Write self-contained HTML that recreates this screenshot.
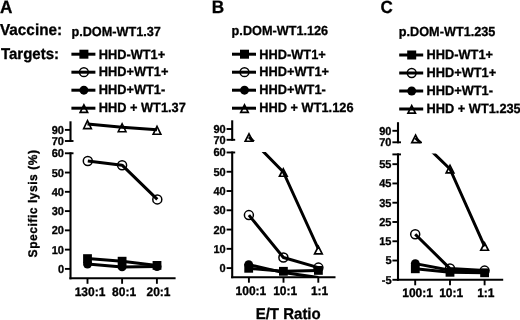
<!DOCTYPE html>
<html><head><meta charset="utf-8"><style>
html,body{margin:0;padding:0;background:#fff;}
body{width:520px;height:320px;overflow:hidden;}
svg{display:block;will-change:transform;}
text{stroke:#000;stroke-width:0.3px;text-rendering:geometricPrecision;}
</style></head><body>
<svg width="520" height="320" viewBox="0 0 520 320" font-family="Liberation Sans" font-weight="bold" fill="#000">
<rect width="520" height="320" fill="#fff"/>
<text transform="translate(36.9,257.4) rotate(-90) scale(1,1.04)" font-size="12" letter-spacing="0.55">Specific lysis (%)</text>
<text transform="translate(0,12.5) scale(1,1.04)" font-size="17.2" text-anchor="start" >A</text>
<text transform="translate(211.8,12.8) scale(1,1.04)" font-size="17.2" text-anchor="start" >B</text>
<text transform="translate(380.4,12.9) scale(1,1.04)" font-size="17.0" text-anchor="start" >C</text>
<text transform="translate(0,35.4) scale(1,1.04)" font-size="15.3" text-anchor="start" >Vaccine:</text>
<text transform="translate(0.9,59) scale(1,1.04)" font-size="15" text-anchor="start" >Targets:</text>
<text transform="translate(71.4,35.5) scale(1,1.04)" font-size="12.7" text-anchor="start" >p.DOM-WT1.37</text>
<text transform="translate(231.6,35.0) scale(1,1.04)" font-size="12.7" text-anchor="start" >p.DOM-WT1.126</text>
<text transform="translate(398.8,35.7) scale(1,1.04)" font-size="12.7" text-anchor="start" >p.DOM-WT1.235</text>
<line x1="71.39999999999999" y1="54.2" x2="95.4" y2="54.2" stroke="#000" stroke-width="3.0" />
<rect x="79.40" y="49.70" width="9.0" height="9.0" fill="#000"/>
<text transform="translate(98.69999999999999,58.550000000000004) scale(1,1.04)" font-size="12.8" text-anchor="start" >HHD-WT1+</text>
<line x1="71.39999999999999" y1="72.2" x2="95.4" y2="72.2" stroke="#000" stroke-width="3.0" />
<circle cx="83.89999999999999" cy="72.2" r="4.4" fill="none" stroke="#000" stroke-width="1.5"/>
<text transform="translate(98.69999999999999,76.35000000000001) scale(1,1.04)" font-size="12.8" text-anchor="start" >HHD+WT1+</text>
<line x1="71.39999999999999" y1="90.2" x2="95.4" y2="90.2" stroke="#000" stroke-width="3.0" />
<circle cx="83.89999999999999" cy="90.2" r="4.45" fill="#000"/>
<text transform="translate(98.69999999999999,94.15) scale(1,1.04)" font-size="12.8" text-anchor="start" >HHD+WT1-</text>
<line x1="71.39999999999999" y1="108.2" x2="95.4" y2="108.2" stroke="#000" stroke-width="3.0" />
<polygon points="83.90,104.87 87.63,112.40 80.17,112.40" fill="none" stroke="#000" stroke-width="1.7" stroke-linejoin="miter"/>
<text transform="translate(98.69999999999999,111.95000000000002) scale(1,1.04)" font-size="12.8" text-anchor="start" >HHD + WT1.37</text>
<line x1="232.0" y1="54.2" x2="256.0" y2="54.2" stroke="#000" stroke-width="3.0" />
<rect x="240.00" y="49.70" width="9.0" height="9.0" fill="#000"/>
<text transform="translate(259.3,58.550000000000004) scale(1,1.04)" font-size="12.8" text-anchor="start" >HHD-WT1+</text>
<line x1="232.0" y1="72.2" x2="256.0" y2="72.2" stroke="#000" stroke-width="3.0" />
<circle cx="244.5" cy="72.2" r="4.4" fill="none" stroke="#000" stroke-width="1.5"/>
<text transform="translate(259.3,76.35000000000001) scale(1,1.04)" font-size="12.8" text-anchor="start" >HHD+WT1+</text>
<line x1="232.0" y1="90.2" x2="256.0" y2="90.2" stroke="#000" stroke-width="3.0" />
<circle cx="244.5" cy="90.2" r="4.45" fill="#000"/>
<text transform="translate(259.3,94.15) scale(1,1.04)" font-size="12.8" text-anchor="start" >HHD+WT1-</text>
<line x1="232.0" y1="108.2" x2="256.0" y2="108.2" stroke="#000" stroke-width="3.0" />
<polygon points="244.50,104.87 248.23,112.40 240.77,112.40" fill="none" stroke="#000" stroke-width="1.7" stroke-linejoin="miter"/>
<text transform="translate(259.3,111.95000000000002) scale(1,1.04)" font-size="12.8" text-anchor="start" >HHD + WT1.126</text>
<line x1="399.20000000000005" y1="55.0" x2="423.20000000000005" y2="55.0" stroke="#000" stroke-width="3.0" />
<rect x="407.20" y="50.50" width="9.0" height="9.0" fill="#000"/>
<text transform="translate(426.5,59.35) scale(1,1.04)" font-size="12.8" text-anchor="start" >HHD-WT1+</text>
<line x1="399.20000000000005" y1="73.0" x2="423.20000000000005" y2="73.0" stroke="#000" stroke-width="3.0" />
<circle cx="411.70000000000005" cy="73.0" r="4.4" fill="none" stroke="#000" stroke-width="1.5"/>
<text transform="translate(426.5,77.15) scale(1,1.04)" font-size="12.8" text-anchor="start" >HHD+WT1+</text>
<line x1="399.20000000000005" y1="91.0" x2="423.20000000000005" y2="91.0" stroke="#000" stroke-width="3.0" />
<circle cx="411.70000000000005" cy="91.0" r="4.45" fill="#000"/>
<text transform="translate(426.5,94.95) scale(1,1.04)" font-size="12.8" text-anchor="start" >HHD+WT1-</text>
<line x1="399.20000000000005" y1="109.0" x2="423.20000000000005" y2="109.0" stroke="#000" stroke-width="3.0" />
<polygon points="411.70,105.67 415.43,113.20 407.97,113.20" fill="none" stroke="#000" stroke-width="1.7" stroke-linejoin="miter"/>
<text transform="translate(426.5,112.75) scale(1,1.04)" font-size="12.8" text-anchor="start" >HHD + WT1.235</text>
<line x1="70.5" y1="121.3" x2="70.5" y2="142.0" stroke="#000" stroke-width="2.1" />
<line x1="70.5" y1="152.3" x2="70.5" y2="279.3" stroke="#000" stroke-width="2.1" />
<line x1="64.9" y1="129.9" x2="70.5" y2="129.9" stroke="#000" stroke-width="1.9" />
<text transform="translate(64.0,133.85) scale(1,1.04)" font-size="11" text-anchor="end" >90</text>
<line x1="64.9" y1="141.0" x2="73.5" y2="141.0" stroke="#000" stroke-width="1.9" />
<text transform="translate(64.0,144.95) scale(1,1.04)" font-size="11" text-anchor="end" >70</text>
<line x1="64.9" y1="153.27999999999997" x2="73.5" y2="153.27999999999997" stroke="#000" stroke-width="1.9" />
<text transform="translate(64.0,157.22999999999996) scale(1,1.04)" font-size="11" text-anchor="end" >60</text>
<line x1="64.9" y1="172.54999999999998" x2="70.5" y2="172.54999999999998" stroke="#000" stroke-width="1.9" />
<text transform="translate(64.0,176.49999999999997) scale(1,1.04)" font-size="11" text-anchor="end" >50</text>
<line x1="64.9" y1="191.82" x2="70.5" y2="191.82" stroke="#000" stroke-width="1.9" />
<text transform="translate(64.0,195.76999999999998) scale(1,1.04)" font-size="11" text-anchor="end" >40</text>
<line x1="64.9" y1="211.08999999999997" x2="70.5" y2="211.08999999999997" stroke="#000" stroke-width="1.9" />
<text transform="translate(64.0,215.03999999999996) scale(1,1.04)" font-size="11" text-anchor="end" >30</text>
<line x1="64.9" y1="230.35999999999999" x2="70.5" y2="230.35999999999999" stroke="#000" stroke-width="1.9" />
<text transform="translate(64.0,234.30999999999997) scale(1,1.04)" font-size="11" text-anchor="end" >20</text>
<line x1="64.9" y1="249.62999999999997" x2="70.5" y2="249.62999999999997" stroke="#000" stroke-width="1.9" />
<text transform="translate(64.0,253.57999999999996) scale(1,1.04)" font-size="11" text-anchor="end" >10</text>
<line x1="64.9" y1="268.9" x2="70.5" y2="268.9" stroke="#000" stroke-width="1.9" />
<text transform="translate(64.0,272.84999999999997) scale(1,1.04)" font-size="11" text-anchor="end" >0</text>
<line x1="69.45" y1="278.3" x2="175.6" y2="278.3" stroke="#000" stroke-width="2.1" />
<line x1="87.5" y1="278.3" x2="87.5" y2="283.8" stroke="#000" stroke-width="1.9" />
<line x1="122.1" y1="278.3" x2="122.1" y2="283.8" stroke="#000" stroke-width="1.9" />
<line x1="156.9" y1="278.3" x2="156.9" y2="283.8" stroke="#000" stroke-width="1.9" />
<text transform="translate(90.0,295.5) scale(1,1.04)" font-size="12" text-anchor="middle" >130:1</text>
<text transform="translate(124.1,295.5) scale(1,1.04)" font-size="12" text-anchor="middle" >80:1</text>
<text transform="translate(158.5,295.5) scale(1,1.04)" font-size="12" text-anchor="middle" >20:1</text>
<line x1="232.2" y1="120.3" x2="232.2" y2="140.8" stroke="#000" stroke-width="2.1" />
<line x1="232.2" y1="151.5" x2="232.2" y2="278.2" stroke="#000" stroke-width="2.1" />
<line x1="226.6" y1="129.0" x2="232.2" y2="129.0" stroke="#000" stroke-width="1.9" />
<text transform="translate(225.7,132.95) scale(1,1.04)" font-size="11" text-anchor="end" >90</text>
<line x1="226.6" y1="139.8" x2="235.2" y2="139.8" stroke="#000" stroke-width="1.9" />
<text transform="translate(225.7,143.75) scale(1,1.04)" font-size="11" text-anchor="end" >70</text>
<line x1="226.6" y1="152.48000000000002" x2="235.2" y2="152.48000000000002" stroke="#000" stroke-width="1.9" />
<text transform="translate(225.7,156.43) scale(1,1.04)" font-size="11" text-anchor="end" >60</text>
<line x1="226.6" y1="171.75000000000003" x2="232.2" y2="171.75000000000003" stroke="#000" stroke-width="1.9" />
<text transform="translate(225.7,175.70000000000002) scale(1,1.04)" font-size="11" text-anchor="end" >50</text>
<line x1="226.6" y1="191.02000000000004" x2="232.2" y2="191.02000000000004" stroke="#000" stroke-width="1.9" />
<text transform="translate(225.7,194.97000000000003) scale(1,1.04)" font-size="11" text-anchor="end" >40</text>
<line x1="226.6" y1="210.29000000000002" x2="232.2" y2="210.29000000000002" stroke="#000" stroke-width="1.9" />
<text transform="translate(225.7,214.24) scale(1,1.04)" font-size="11" text-anchor="end" >30</text>
<line x1="226.6" y1="229.56000000000003" x2="232.2" y2="229.56000000000003" stroke="#000" stroke-width="1.9" />
<text transform="translate(225.7,233.51000000000002) scale(1,1.04)" font-size="11" text-anchor="end" >20</text>
<line x1="226.6" y1="248.83" x2="232.2" y2="248.83" stroke="#000" stroke-width="1.9" />
<text transform="translate(225.7,252.78) scale(1,1.04)" font-size="11" text-anchor="end" >10</text>
<line x1="226.6" y1="268.1" x2="232.2" y2="268.1" stroke="#000" stroke-width="1.9" />
<text transform="translate(225.7,272.05) scale(1,1.04)" font-size="11" text-anchor="end" >0</text>
<line x1="231.14999999999998" y1="277.2" x2="335.5" y2="277.2" stroke="#000" stroke-width="2.1" />
<line x1="248.9" y1="277.2" x2="248.9" y2="282.7" stroke="#000" stroke-width="1.9" />
<line x1="283.5" y1="277.2" x2="283.5" y2="282.7" stroke="#000" stroke-width="1.9" />
<line x1="318.3" y1="277.2" x2="318.3" y2="282.7" stroke="#000" stroke-width="1.9" />
<text transform="translate(250.9,295.0) scale(1,1.04)" font-size="12" text-anchor="middle" >100:1</text>
<text transform="translate(285.2,295.0) scale(1,1.04)" font-size="12" text-anchor="middle" >10:1</text>
<text transform="translate(319.6,295.0) scale(1,1.04)" font-size="12" text-anchor="middle" >1:1</text>
<line x1="398.0" y1="122.2" x2="398.0" y2="143.3" stroke="#000" stroke-width="2.1" />
<line x1="398.0" y1="153.4" x2="398.0" y2="280.8" stroke="#000" stroke-width="2.1" />
<line x1="392.4" y1="130.8" x2="398.0" y2="130.8" stroke="#000" stroke-width="1.9" />
<text transform="translate(391.5,134.75) scale(1,1.04)" font-size="11" text-anchor="end" >90</text>
<line x1="392.4" y1="142.3" x2="401.0" y2="142.3" stroke="#000" stroke-width="1.9" />
<text transform="translate(391.5,146.25) scale(1,1.04)" font-size="11" text-anchor="end" >70</text>
<line x1="392.4" y1="154.4" x2="401.0" y2="154.4" stroke="#000" stroke-width="1.9" />
<text transform="translate(391.5,158.35) scale(1,1.04)" font-size="11" text-anchor="end" ></text>
<line x1="392.4" y1="164.18" x2="398.0" y2="164.18" stroke="#000" stroke-width="1.9" />
<text transform="translate(391.5,168.13) scale(1,1.04)" font-size="11" text-anchor="end" >55</text>
<line x1="392.4" y1="183.45000000000002" x2="398.0" y2="183.45000000000002" stroke="#000" stroke-width="1.9" />
<text transform="translate(391.5,187.4) scale(1,1.04)" font-size="11" text-anchor="end" >45</text>
<line x1="392.4" y1="202.72000000000003" x2="398.0" y2="202.72000000000003" stroke="#000" stroke-width="1.9" />
<text transform="translate(391.5,206.67000000000002) scale(1,1.04)" font-size="11" text-anchor="end" >35</text>
<line x1="392.4" y1="221.99" x2="398.0" y2="221.99" stroke="#000" stroke-width="1.9" />
<text transform="translate(391.5,225.94) scale(1,1.04)" font-size="11" text-anchor="end" >25</text>
<line x1="392.4" y1="241.26000000000002" x2="398.0" y2="241.26000000000002" stroke="#000" stroke-width="1.9" />
<text transform="translate(391.5,245.21) scale(1,1.04)" font-size="11" text-anchor="end" >15</text>
<line x1="392.4" y1="260.53000000000003" x2="398.0" y2="260.53000000000003" stroke="#000" stroke-width="1.9" />
<text transform="translate(391.5,264.48) scale(1,1.04)" font-size="11" text-anchor="end" >5</text>
<line x1="392.4" y1="279.8" x2="398.0" y2="279.8" stroke="#000" stroke-width="1.9" />
<text transform="translate(391.5,283.75) scale(1,1.04)" font-size="11" text-anchor="end" >-5</text>
<line x1="396.95" y1="279.8" x2="503.2" y2="279.8" stroke="#000" stroke-width="2.1" />
<line x1="415.2" y1="279.8" x2="415.2" y2="285.3" stroke="#000" stroke-width="1.9" />
<line x1="450.0" y1="279.8" x2="450.0" y2="285.3" stroke="#000" stroke-width="1.9" />
<line x1="484.6" y1="279.8" x2="484.6" y2="285.3" stroke="#000" stroke-width="1.9" />
<text transform="translate(417.6,297.3) scale(1,1.04)" font-size="12" text-anchor="middle" >100:1</text>
<text transform="translate(451.2,297.3) scale(1,1.04)" font-size="12" text-anchor="middle" >10:1</text>
<text transform="translate(485.8,297.3) scale(1,1.04)" font-size="12" text-anchor="middle" >1:1</text>
<polyline points="87.5,124.1 122.1,127.2 157.0,129.8" fill="none" stroke="#000" stroke-width="3.0" stroke-linejoin="round" />
<polygon points="87.50,120.63 91.37,128.60 83.63,128.60" fill="none" stroke="#000" stroke-width="1.6" stroke-linejoin="miter"/>
<polygon points="122.10,123.73 125.97,131.70 118.23,131.70" fill="none" stroke="#000" stroke-width="1.6" stroke-linejoin="miter"/>
<polygon points="157.00,126.33 160.87,134.30 153.13,134.30" fill="none" stroke="#000" stroke-width="1.6" stroke-linejoin="miter"/>
<polyline points="87.8,161.0 122.1,165.2 157.3,199.4" fill="none" stroke="#000" stroke-width="3.0" stroke-linejoin="round" />
<circle cx="87.8" cy="161.0" r="4.5" fill="none" stroke="#000" stroke-width="1.5"/>
<circle cx="122.1" cy="165.2" r="4.5" fill="none" stroke="#000" stroke-width="1.5"/>
<circle cx="157.3" cy="199.4" r="4.5" fill="none" stroke="#000" stroke-width="1.5"/>
<polyline points="87.5,258.6 122.1,261.2 157.0,265.4" fill="none" stroke="#000" stroke-width="3.0" stroke-linejoin="round" />
<polyline points="87.5,264.0 122.1,266.9 157.0,266.6" fill="none" stroke="#000" stroke-width="3.0" stroke-linejoin="round" />
<circle cx="87.5" cy="264.0" r="4.45" fill="#000"/>
<circle cx="122.1" cy="266.9" r="4.45" fill="#000"/>
<circle cx="157.0" cy="266.6" r="4.45" fill="#000"/>
<rect x="83.10" y="254.20" width="8.8" height="8.8" fill="#000"/>
<rect x="117.70" y="256.80" width="8.8" height="8.8" fill="#000"/>
<rect x="152.60" y="261.00" width="8.8" height="8.8" fill="#000"/>
<clipPath id="cbU"><rect x="233" y="110" width="22" height="31.0"/></clipPath>
<clipPath id="cbL"><rect x="233" y="151.9" width="110" height="130"/></clipPath>
<clipPath id="ccU"><rect x="399" y="110" width="23" height="33.2"/></clipPath>
<clipPath id="ccL"><rect x="399" y="153.6" width="110" height="130"/></clipPath>
<clipPath id="cbA"><rect x="233" y="100" width="110" height="177"/></clipPath>
<polyline points="249.0,137.0 283.3,172.0" fill="none" stroke="#000" stroke-width="3.0" stroke-linejoin="round" clip-path="url(#cbU)"/>
<polyline points="249.0,137.0 283.3,172.0 318.4,249.0" fill="none" stroke="#000" stroke-width="3.0" stroke-linejoin="round" clip-path="url(#cbL)"/>
<polygon points="249.00,133.77 252.81,141.25 245.19,141.25" fill="none" stroke="#000" stroke-width="1.7" stroke-linejoin="miter"/>
<polygon points="283.30,168.77 287.11,176.25 279.49,176.25" fill="none" stroke="#000" stroke-width="1.7" stroke-linejoin="miter"/>
<polygon points="318.40,246.37 322.21,253.85 314.59,253.85" fill="none" stroke="#000" stroke-width="1.7" stroke-linejoin="miter"/>
<polyline points="248.9,215.1 283.4,257.5 318.4,267.6" fill="none" stroke="#000" stroke-width="3.0" stroke-linejoin="round" />
<polyline points="248.7,264.6 283.4,272.6 318.4,277.6" fill="none" stroke="#000" stroke-width="3.0" stroke-linejoin="round" clip-path="url(#cbA)"/>
<polyline points="248.7,268.3 283.4,271.2 318.4,270.4" fill="none" stroke="#000" stroke-width="3.0" stroke-linejoin="round" />
<circle cx="248.7" cy="264.6" r="4.45" fill="#000"/>
<rect x="244.30" y="263.90" width="8.8" height="8.8" fill="#000"/>
<circle cx="248.9" cy="215.1" r="4.5" fill="none" stroke="#000" stroke-width="1.5"/>
<circle cx="283.4" cy="257.5" r="4.5" fill="none" stroke="#000" stroke-width="1.5"/>
<rect x="279.00" y="266.90" width="8.8" height="8.8" fill="#000"/>
<circle cx="318.4" cy="267.6" r="4.5" fill="none" stroke="#000" stroke-width="1.5"/>
<rect x="314.00" y="266.00" width="8.8" height="8.8" fill="#000"/>
<polyline points="415.4,138.0 450.0,169.0" fill="none" stroke="#000" stroke-width="3.0" stroke-linejoin="round" clip-path="url(#ccU)"/>
<polyline points="415.4,135.5 450.0,169.0 484.6,246.3" fill="none" stroke="#000" stroke-width="3.0" stroke-linejoin="round" clip-path="url(#ccL)"/>
<polygon points="415.60,135.17 419.41,142.65 411.79,142.65" fill="none" stroke="#000" stroke-width="1.7" stroke-linejoin="miter"/>
<polygon points="450.00,165.47 453.81,172.95 446.19,172.95" fill="none" stroke="#000" stroke-width="1.7" stroke-linejoin="miter"/>
<polygon points="484.60,242.77 488.41,250.25 480.79,250.25" fill="none" stroke="#000" stroke-width="1.7" stroke-linejoin="miter"/>
<polyline points="415.2,234.2 450.0,268.6 484.6,270.6" fill="none" stroke="#000" stroke-width="3.0" stroke-linejoin="round" />
<polyline points="415.3,263.6 450.0,270.2 484.6,271.8" fill="none" stroke="#000" stroke-width="3.0" stroke-linejoin="round" />
<polyline points="415.3,268.8 450.0,272.2 484.6,272.8" fill="none" stroke="#000" stroke-width="3.0" stroke-linejoin="round" />
<circle cx="415.3" cy="263.6" r="4.45" fill="#000"/>
<rect x="410.90" y="264.40" width="8.8" height="8.8" fill="#000"/>
<circle cx="415.2" cy="234.2" r="4.5" fill="none" stroke="#000" stroke-width="1.5"/>
<circle cx="450.0" cy="268.5" r="4.5" fill="none" stroke="#000" stroke-width="1.5"/>
<rect x="445.60" y="267.90" width="8.8" height="8.8" fill="#000"/>
<circle cx="484.6" cy="270.6" r="4.5" fill="none" stroke="#000" stroke-width="1.5"/>
<rect x="480.20" y="268.40" width="8.8" height="8.8" fill="#000"/>
<text transform="translate(288.2,319.1) scale(1,1.04)" font-size="15" text-anchor="middle" >E/T Ratio</text>
</svg>
</body></html>
